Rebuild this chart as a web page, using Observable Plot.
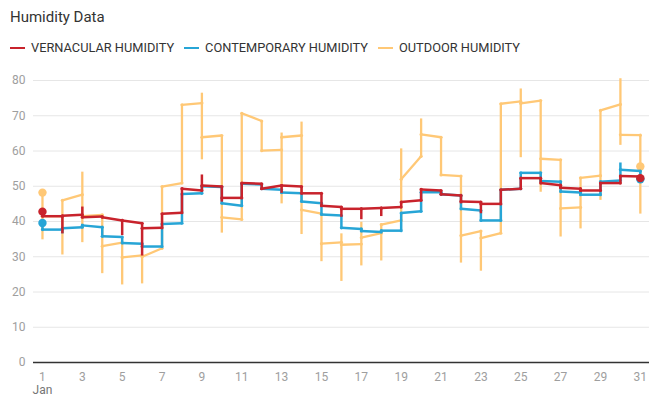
<!DOCTYPE html>
<html>
<head>
<meta charset="utf-8">
<script src="https://cdn.jsdelivr.net/npm/d3@7"></script>
<script src="https://cdn.jsdelivr.net/npm/@observablehq/plot@0.6"></script>
<style>
  html, body { margin: 0; padding: 0; background: #fff; }
  body { width: 649px; height: 401px; position: relative; overflow: hidden; font-family: Roboto, "Noto Sans", sans-serif; }
  #title { position: absolute; left: 10px; top: 8px; font-size: 15px; line-height: 18px; color: #333; }
  #legend { position: absolute; left: 10px; top: 40px; height: 16px; display: flex; align-items: center; font-size: 12.8px; line-height: 16px; color: #333; }
  .item { display: flex; align-items: center; margin-right: 10px; }
  .sw { width: 15px; height: 2.5px; margin-right: 6px; }
  #chart { position: absolute; left: 0; top: 60px; }
</style>
</head>
<body>
<div id="title">Humidity Data</div>
<div id="legend"></div>
<div id="chart"></div>
<script>
const seriesNames = ["VERNACULAR HUMIDITY", "CONTEMPORARY HUMIDITY", "OUTDOOR HUMIDITY"];
const seriesColors = ["#c8232c", "#27a5d6", "#ffc876"];
const days = [1,2,3,4,5,6,7,8,9,10,11,12,13,14,15,16,17,18,19,20,21,22,23,24,25,26,27,28,29,30,31];
const xTicks = [1,3,5,7,9,11,13,15,17,19,21,23,25,27,29,31];
const yTicks = [0,10,20,30,40,50,60,70,80];
const monthLabel = "Jan";

// Vernacular (red)
const redOpen  = [41.5,41.6,41.2,41.2,40.3,38.1,42.2,49.3,50.2,46.7,50.9,49.3,50.2,48.0,44.5,43.6,43.6,43.8,45.5,49.1,47.7,45.7,45.0,49.0,52.3,50.9,49.6,48.8,50.9,52.9];
const redClose = [41.5,41.9,41.4,40.3,39.5,38.2,42.5,48.8,49.9,46.7,50.7,50.2,49.9,48.0,44.1,43.6,43.8,44.1,46.0,48.8,47.4,45.5,45.0,49.3,52.3,50.3,49.3,48.8,50.9,52.8];
const redLow   = [41.5,36.5,40.8,40.8,36.0,30.2,38.2,42.5,48.8,45.5,46.7,48.8,48.0,48.0,44.5,41.2,40.5,41.4,44.1,46.0,47.4,45.0,42.2,45.0,49.3,50.9,49.3,48.3,48.8,50.9,52.3];
const redHigh  = [42.8,41.6,44.1,41.4,40.3,39.5,42.2,49.5,53.2,49.9,50.9,50.7,50.2,49.9,48.0,44.1,43.6,43.8,45.5,49.3,48.8,47.4,45.5,49.0,52.3,52.3,50.3,49.3,50.9,53.1,52.8];
const redStart = 42.8, redEnd = 52.3;

// Contemporary (blue)
const blueOpen  = [37.7,38.1,38.9,35.8,33.9,32.9,39.3,47.8,50.0,45.2,50.7,49.3,48.2,45.7,42.0,38.2,37.3,37.4,42.4,48.3,47.7,43.6,40.3,49.0,53.8,51.5,48.5,47.6,51.3,54.7];
const blueClose = [37.7,38.4,38.4,35.6,33.7,32.9,39.5,48.0,49.8,44.5,50.5,49.0,48.0,45.2,41.7,37.9,37.0,37.4,42.9,48.3,47.4,43.1,40.3,49.3,53.8,51.3,48.2,47.6,51.6,54.3];
const blueLow   = [37.7,36.5,38.4,35.8,33.7,32.7,32.9,39.5,48.0,45.2,44.5,49.0,47.7,45.7,42.0,38.2,37.0,37.0,37.4,42.9,47.4,43.6,40.3,40.3,49.3,51.5,48.5,47.5,47.6,51.6,52.0];
const blueHigh  = [39.6,38.1,39.2,38.4,35.6,33.7,39.3,47.8,50.0,49.8,50.7,50.5,49.0,48.0,45.2,41.7,37.9,37.4,42.4,48.3,48.3,47.4,43.1,49.0,53.8,53.8,51.3,48.2,51.3,56.6,54.3];
const blueStart = 39.6, blueEnd = 52.0;

// Outdoor (orange)
const orangeOpen  = [41.5,46.0,41.5,33.0,29.8,30.0,49.9,73.1,63.9,41.2,70.7,60.1,63.9,43.3,33.7,33.4,35.4,39.1,52.0,64.7,53.2,36.0,35.3,73.4,73.5,57.8,43.7,52.4,71.5,64.6];
const orangeClose = [41.5,47.6,41.9,34.0,30.4,32.4,50.9,73.6,64.4,40.6,68.5,60.3,64.4,42.2,34.1,33.6,36.7,40.3,58.5,63.9,52.9,37.3,36.7,74.1,74.3,57.5,44.0,53.0,73.2,64.5];
const orangeLow   = [34.8,30.5,34.0,25.2,22.0,22.3,32.4,50.9,57.5,36.7,40.3,60.1,45.0,36.3,28.6,23.0,27.4,28.8,40.3,58.5,53.2,28.2,25.9,36.7,58.1,48.3,35.6,37.9,46.0,61.6,42.1];
const orangeHigh  = [48.2,46.0,54.0,41.9,34.0,30.4,49.9,73.1,76.4,64.4,70.7,68.5,65.1,68.2,42.2,36.5,39.8,39.3,60.6,69.1,63.9,52.9,37.3,73.4,77.6,74.3,57.5,52.4,71.5,80.5,64.5];
const orangeStart = 48.2, orangeEnd = 55.6;

// Legend
const legend = document.getElementById("legend");
seriesNames.forEach((name, i) => {
  const item = document.createElement("div");
  item.className = "item";
  const sw = document.createElement("span");
  sw.className = "sw";
  sw.style.background = seriesColors[i];
  const label = document.createElement("span");
  label.textContent = name;
  item.appendChild(sw);
  item.appendChild(label);
  legend.appendChild(item);
});

function seriesMarks(open, close, low, high, start, end, color, w) {
  const segs = open.map((o, i) => ({x1: days[i], y1: o, x2: days[i + 1], y2: close[i]}));
  const verts = days.map((d, i) => ({x: d, lo: low[i], hi: high[i]}));
  const pts = segs.flatMap(s => [{x: s.x1, y: s.y1}, {x: s.x2, y: s.y2}]);
  const ends = [{x: days[0], y: start}, {x: days[days.length - 1], y: end}];
  return [
    Plot.ruleX(verts, {x: "x", y1: "lo", y2: "hi", stroke: color, strokeWidth: w}),
    Plot.link(segs, {x1: "x1", y1: "y1", x2: "x2", y2: "y2", stroke: color, strokeWidth: w}),
    Plot.dot(pts, {x: "x", y: "y", r: 1.6, fill: color, stroke: null}),
    Plot.dot(ends, {x: "x", y: "y", r: 4.2, fill: color, stroke: null})
  ];
}

const chart = Plot.plot({
  width: 649,
  height: 341,
  marginTop: 20,
  marginBottom: 39,
  marginLeft: 33,
  marginRight: 0,
  style: {fontFamily: "Roboto, sans-serif", fontSize: "12px", color: "#9e9e9e", background: "transparent"},
  x: {type: "linear", domain: [0.55, 31.46], ticks: xTicks, tickSize: 0, tickPadding: 10, tickFormat: d => String(d), label: null},
  y: {domain: [0, 80], ticks: yTicks, tickSize: 0, tickPadding: 8, label: null},
  marks: [
    Plot.ruleY(yTicks.filter(v => v > 0), {stroke: "#e6e6e6", strokeWidth: 1}),
    ...seriesMarks(orangeOpen, orangeClose, orangeLow, orangeHigh, orangeStart, orangeEnd, seriesColors[2], 2.3),
    ...seriesMarks(blueOpen, blueClose, blueLow, blueHigh, blueStart, blueEnd, seriesColors[1], 2.5),
    ...seriesMarks(redOpen, redClose, redLow, redHigh, redStart, redEnd, seriesColors[0], 2.5),
    Plot.ruleY([0], {stroke: "#333", strokeWidth: 1.5}),
    Plot.text([monthLabel], {x: () => days[0], frameAnchor: "bottom", dy: 31, text: d => d, fill: "#757575", fontSize: 12})
  ]
});
document.getElementById("chart").appendChild(chart);
</script>
</body>
</html>
